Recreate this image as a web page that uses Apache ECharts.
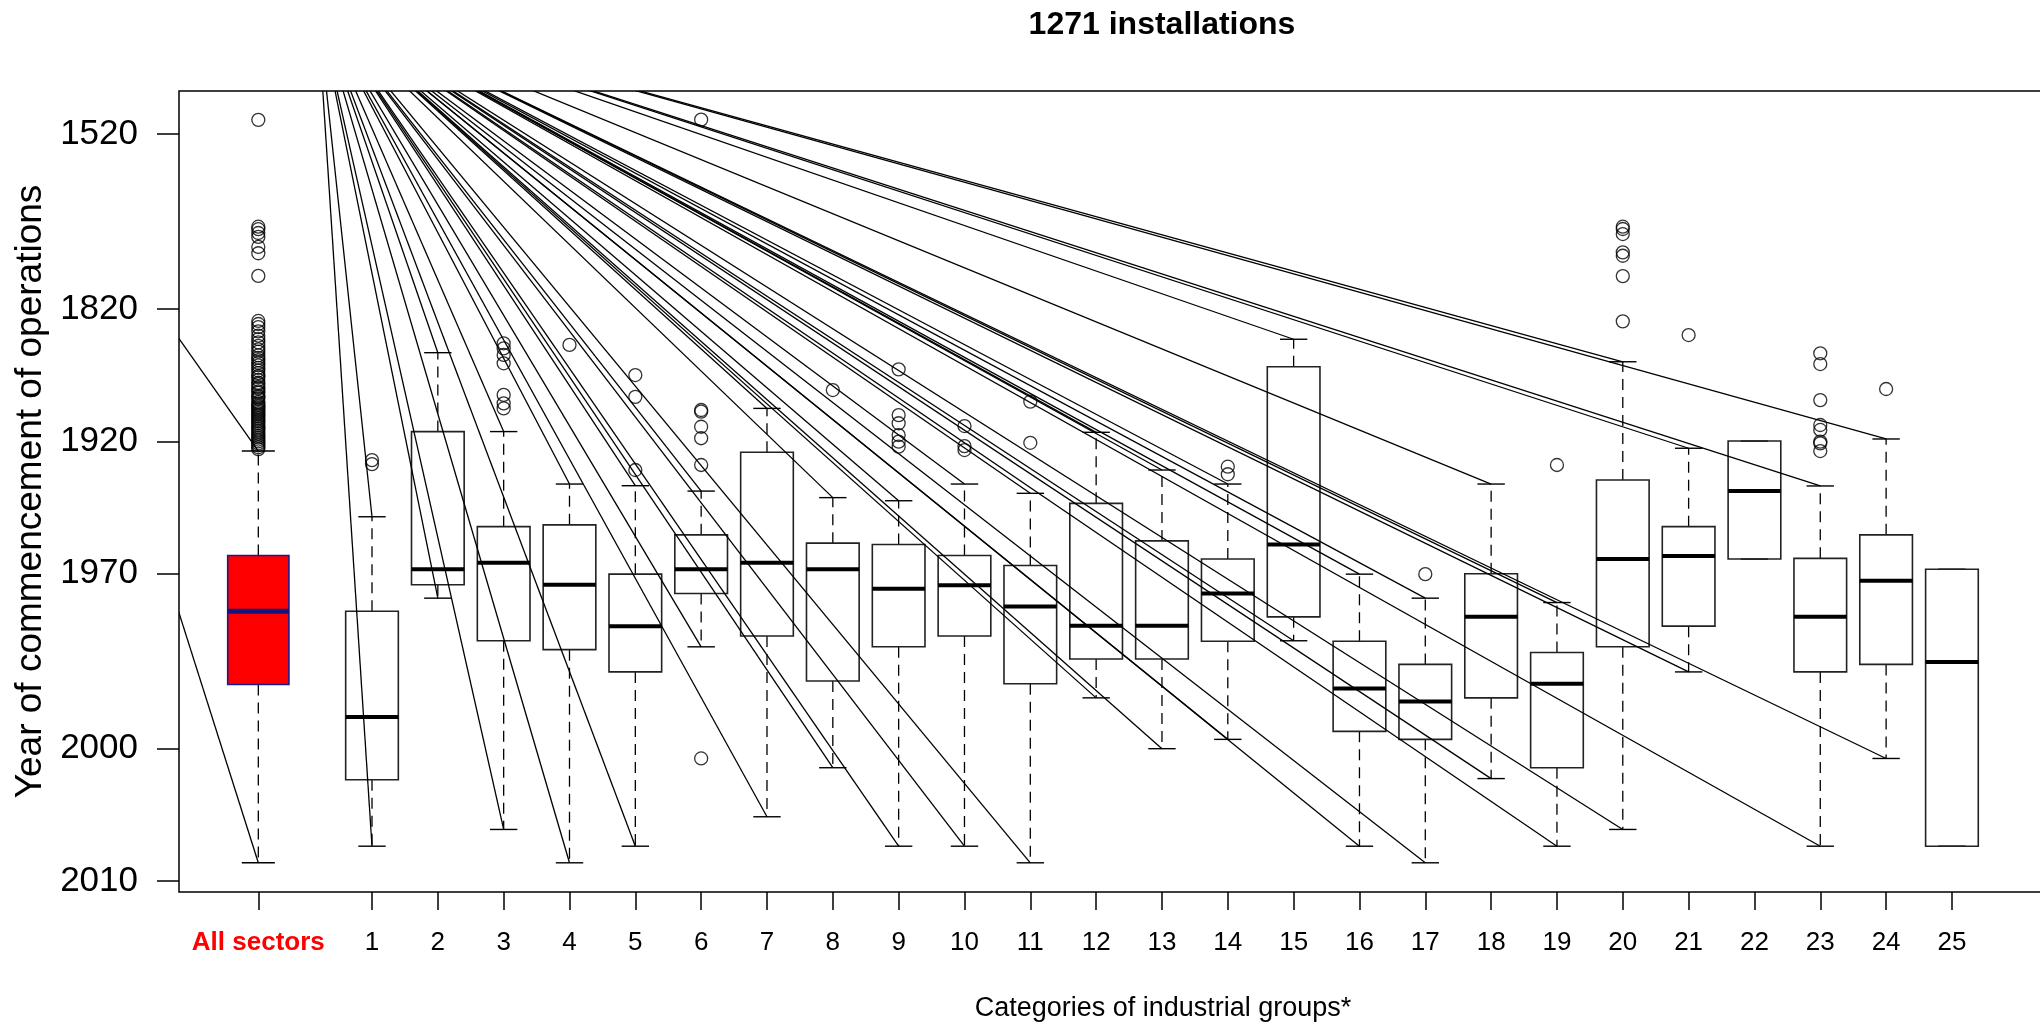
<!DOCTYPE html>
<html>
<head>
<meta charset="utf-8">
<script src="https://cdn.jsdelivr.net/npm/echarts@6/dist/echarts.min.js"></script>
<style>
html,body{margin:0;padding:0;background:#fff;}
#c{width:2040px;height:1024px;}
</style>
</head>
<body>
<div id="c"></div>
<script>
// ---------------- DATA (years) ----------------
const categories = ['1','2','3','4','5','6','7','8','9','10','11','12','13','14','15','16','17','18','19','20','21','22','23','24','25'];
// All sectors: [upper whisker, box top, median, box bottom, lower whisker]
const allSectors = [1924.9, 1965.0, 1978.9, 1992.0, 2009.0];
const allOutliers = [1481, 1712, 1716, 1722, 1728, 1743, 1752, 1782, 1832,
  1835, 1838, 1842, 1846, 1849, 1852, 1855, 1858, 1860, 1863, 1865, 1867, 1869, 1871, 1873, 1875, 1877, 1879, 1880,
  1882, 1884, 1885, 1887, 1888, 1890, 1891, 1893, 1894, 1895, 1897, 1898, 1899, 1900, 1901, 1902, 1903, 1904,
  1905, 1906, 1907, 1908, 1909, 1910, 1911, 1912, 1913, 1914, 1915, 1916, 1917, 1918, 1919, 1920, 1921, 1922, 1923, 1924];
const whiskerOld = [1952.6, 1860.8, 1914.7, 1940.0, 1940.7, 1942.9, 1901.1, 1945.5, 1946.7, 1940.0, 1943.8, 1915.1, 1933.9, 1940.0, 1849.2, 1970.1, 1976.0, 1940.0, 1977.0, 1868.2, 1923.5, 1919.8, 1940.8, 1918.7, 1968.8];
const boxOld     = [1978.9, 1914.7, 1956.0, 1955.4, 1970.1, 1958.7, 1925.5, 1961.3, 1961.7, 1965.0, 1967.8, 1947.7, 1960.6, 1966.0, 1872.1, 1984.9, 1988.9, 1970.0, 1986.9, 1938.3, 1956.0, 1919.8, 1965.8, 1958.7, 1968.8];
const medians    = [1996.4, 1968.8, 1967.0, 1972.8, 1982.0, 1968.8, 1967.0, 1968.8, 1973.8, 1972.9, 1977.9, 1981.9, 1981.9, 1974.9, 1961.7, 1992.6, 1994.4, 1980.1, 1991.9, 1966.0, 1965.1, 1942.9, 1980.1, 1971.8, 1988.5];
const boxNew     = [2003.0, 1972.8, 1984.8, 1986.4, 1990.1, 1974.9, 1983.9, 1991.5, 1985.9, 1983.9, 1991.9, 1988.0, 1988.0, 1984.9, 1980.1, 1998.1, 1999.0, 1993.9, 2001.9, 1985.9, 1982.0, 1966.0, 1990.1, 1988.9, 2008.0];
const whiskerNew = [2008.0, 1976.0, 2006.9, 2009.0, 2008.0, 1985.9, 2006.0, 2001.9, 2008.0, 2008.0, 2009.0, 1993.9, 2000.0, 1999.0, 1984.8, 2008.0, 2009.0, 2002.9, 2008.0, 2006.9, 1990.1, 1966.0, 2008.0, 2001.0, 2008.0];
const outliers = [
  [1929.3, 1931.2],
  [],
  [1852.8, 1857.2, 1862.7, 1869.4, 1892.4, 1897.9, 1901.1],
  [1854.2],
  [1878.4, 1893.7, 1933.9],
  [1480.4, 1902.1, 1903.1, 1912.0, 1918.3, 1931.6, 2001.0],
  [],
  [1889.1],
  [1874.1, 1905.2, 1910.0, 1916.6, 1920.1, 1922.7],
  [1911.6, 1922.4, 1924.4],
  [1896.8, 1920.7],
  [],
  [],
  [1932.4, 1935.8],
  [],
  [],
  [1970.1],
  [],
  [1931.6],
  [1712.0, 1715.7, 1723.6, 1750.7, 1755.5, 1782.2, 1832.4],
  [1845.4],
  [],
  [1861.3, 1870.0, 1895.8, 1911.0, 1913.8, 1920.1, 1921.0, 1924.9],
  [1888.4],
  []
];
const yTickYears = [1520, 1820, 1920, 1970, 2000, 2010];
// common start points of the connector lines: [x position, year]
const originAll = [-4.332, 1467.1];
const originCat = [0.1645, 1020];

// ---------------- helpers ----------------
const REF = 2020;
const V = y => REF - y;              // plotted on a log axis
const FONT = "'Liberation Sans', Arial, Helvetica, sans-serif";
const AS_X = -0.727;
const X_MIN = -1.9318, X_MAX = 26.368;
const Y_MIN = 9.44, Y_MAX = 627;

const catX = categories.map((c, i) => i + 1);
const tickXs = [AS_X].concat(catX);

function makeBoxRender(boxW, capFrac, fill, stroke, medColor, medW) {
  return function (params, api) {
    const x = api.value(0);
    const vals = [api.value(1), api.value(2), api.value(3), api.value(4), api.value(5)];
    const pts = vals.map(v => api.coord([x, v]));
    const xl = api.coord([x - boxW / 2, vals[2]])[0];
    const xr = api.coord([x + boxW / 2, vals[2]])[0];
    const cx = pts[2][0];
    const capH = (xr - xl) / 2 * capFrac;
    const yWO = pts[0][1], yBO = pts[1][1], yMed = pts[2][1], yBN = pts[3][1], yWN = pts[4][1];
    const dash = { stroke: '#000', lineWidth: 1.3, lineDash: [11, 7], fill: null };
    const solid = { stroke: '#000', lineWidth: 1.4, fill: null };
    return {
      type: 'group',
      children: [
        { type: 'line', shape: { x1: cx, y1: yBO, x2: cx, y2: yWO }, style: dash },
        { type: 'line', shape: { x1: cx, y1: yBN, x2: cx, y2: yWN }, style: dash },
        { type: 'line', shape: { x1: cx - capH, y1: yWO, x2: cx + capH, y2: yWO }, style: solid },
        { type: 'line', shape: { x1: cx - capH, y1: yWN, x2: cx + capH, y2: yWN }, style: solid },
        { type: 'rect', shape: { x: xl, y: yBO, width: xr - xl, height: yBN - yBO },
          style: { fill: fill, stroke: stroke, lineWidth: 1.6 } },
        { type: 'line', shape: { x1: xl, y1: yMed, x2: xr, y2: yMed },
          style: { stroke: medColor, lineWidth: medW } }
      ]
    };
  };
}

function makeLineRender(origin) {
  return function (params, api) {
    const p0 = api.coord([origin[0], V(origin[1])]);
    const p1 = api.coord([api.value(0), api.value(1)]);
    return { type: 'line', shape: { x1: p0[0], y1: p0[1], x2: p1[0], y2: p1[1] },
      style: { stroke: '#000', lineWidth: 1.3 } };
  };
}

// ---------------- series data ----------------
const allBoxData = [[AS_X].concat(allSectors.map(V))];
const catBoxData = catX.map((x, i) => [x, V(whiskerOld[i]), V(boxOld[i]), V(medians[i]), V(boxNew[i]), V(whiskerNew[i])]);
const allOutData = allOutliers.map(y => [AS_X, V(y)]);
const catOutData = [];
outliers.forEach((arr, i) => arr.forEach(y => catOutData.push([catX[i], V(y)])));
const allLineData = [[AS_X, V(allSectors[0])], [AS_X, V(allSectors[4])]];
const catLineData = [];
catX.forEach((x, i) => {
  if (whiskerOld[i] !== boxOld[i]) catLineData.push([x, V(whiskerOld[i])]);
  if (whiskerNew[i] !== boxNew[i]) catLineData.push([x, V(whiskerNew[i])]);
});

const chart = echarts.init(document.getElementById('c'), null, { renderer: 'canvas' });
chart.setOption({
  animation: false,
  backgroundColor: '#fff',
  textStyle: { fontFamily: FONT },
  grid: {
    left: 179, top: 91, width: 1863, height: 801,
    show: true, borderColor: '#000', borderWidth: 1.5, backgroundColor: 'transparent',
    containLabel: false, outerBoundsMode: 'none'
  },
  xAxis: {
    type: 'value', min: X_MIN, max: X_MAX,
    axisLine: { show: false, onZero: false }, splitLine: { show: false },
    axisTick: { show: true, length: 18, inside: false, customValues: tickXs,
      lineStyle: { color: '#000', width: 1.5 } },
    axisLabel: {
      show: true, customValues: tickXs, margin: 38, fontSize: 26, color: '#000', fontFamily: FONT,
      formatter: function (v) {
        if (Math.abs(v - AS_X) < 0.01) return '{as|All sectors}';
        return categories[Math.round(v) - 1] || '';
      },
      rich: { as: { color: '#ff0000', fontWeight: 'bold', fontSize: 26, fontFamily: FONT } }
    }
  },
  yAxis: {
    type: 'log', logBase: 10, min: Y_MIN, max: Y_MAX,
    axisLine: { show: false, onZero: false }, splitLine: { show: false }, minorTick: { show: false },
    axisTick: { show: true, length: 22, inside: false, customValues: yTickYears.map(V),
      lineStyle: { color: '#000', width: 1.5 } },
    axisLabel: { show: true, customValues: yTickYears.map(V), margin: 41, fontSize: 35, color: '#000',
      fontFamily: FONT, formatter: v => String(Math.round(REF - v)) },
    name: 'Year of commencement of operations', nameLocation: 'middle', nameGap: 120, nameRotate: 90,
    nameTextStyle: { fontSize: 37, color: '#000', fontFamily: FONT }
  },
  graphic: [
    { type: 'text', x: 1162, y: 25, silent: true,
      style: { text: '1271 installations', font: "bold 32px 'Liberation Sans', Arial, sans-serif",
        fill: '#000', textAlign: 'center', textVerticalAlign: 'middle' } },
    { type: 'text', x: 1163, y: 1009, silent: true,
      style: { text: 'Categories of industrial groups*', font: "27px 'Liberation Sans', Arial, sans-serif",
        fill: '#000', textAlign: 'center', textVerticalAlign: 'middle' } }
  ],
  series: [
    { type: 'custom', name: 'All sectors', data: allBoxData, clip: true, silent: true,
      encode: { x: 0, y: 3 },
      renderItem: makeBoxRender(0.93, 0.54, '#ff0000', '#1a1a8c', '#141480', 5) },
    { type: 'custom', name: 'Groups', data: catBoxData, clip: true, silent: true,
      encode: { x: 0, y: 3 },
      renderItem: makeBoxRender(0.8, 0.52, 'none', '#222', '#000', 4) },
    { type: 'scatter', data: allOutData, symbol: 'circle', symbolSize: 13, silent: true,
      itemStyle: { color: 'rgba(0,0,0,0)', borderColor: '#000', borderWidth: 1.3 } },
    { type: 'scatter', data: catOutData, symbol: 'circle', symbolSize: 13, silent: true,
      itemStyle: { color: 'rgba(0,0,0,0)', borderColor: '#000', borderWidth: 1.3 } },
    { type: 'custom', data: allLineData, clip: true, silent: true, encode: { x: 0, y: 1 },
      renderItem: makeLineRender(originAll) },
    { type: 'custom', data: catLineData, clip: true, silent: true, encode: { x: 0, y: 1 },
      renderItem: makeLineRender(originCat) }
  ]
});
</script>
</body>
</html>
